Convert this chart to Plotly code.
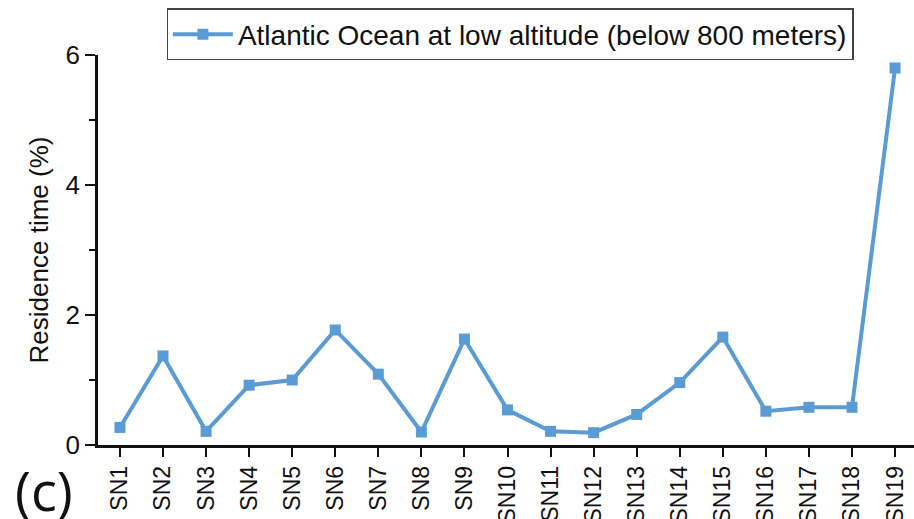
import plotly.graph_objects as go

# Sampling stations and residence time (%)
stations = [f"SN{i}" for i in range(1, 20)]
residence = [0.27, 1.37, 0.21, 0.92, 1.00, 1.77, 1.09, 0.20, 1.63, 0.54,
             0.21, 0.19, 0.47, 0.96, 1.66, 0.52, 0.58, 0.58, 5.80]
series_name = "Atlantic Ocean at low altitude (below 800 meters)"
y_major = [0, 2, 4, 6]
y_minor = [1, 3, 5]

blue = "#5b9bd5"
ink = "#111111"

fig = go.Figure()
fig.add_trace(go.Scatter(
    x=list(range(len(stations))), y=residence, name=series_name,
    mode="lines+markers",
    line=dict(color=blue, width=4),
    marker=dict(symbol="square", size=11, color=blue),
    showlegend=True,
))

fig.update_layout(
    width=914, height=519,
    margin=dict(l=98, r=0, t=55, b=74, autoexpand=False),
    paper_bgcolor="white", plot_bgcolor="white",
    font=dict(family="Liberation Sans, Arial, sans-serif", color=ink),
    legend=dict(
        x=0.505, y=1.12, xanchor="center", yanchor="top",
        xref="paper", yref="paper",
        orientation="h",
        bordercolor="#444444", borderwidth=1.3, bgcolor="white",
        font=dict(size=28, color=ink),
        itemwidth=60,
        tracegroupgap=0,
    ),
    showlegend=True,
)

fig.update_xaxes(
    range=[-0.51, 18.44], automargin=False,
    tickmode="array", tickvals=list(range(len(stations))), ticktext=stations,
    tickangle=-90, tickfont=dict(size=23),
    ticks="outside", ticklen=9, tickwidth=2, tickcolor=ink,
    showline=True, linecolor=ink, linewidth=2.5,
    showgrid=False, zeroline=False,
)
fig.update_yaxes(
    range=[0, 6], automargin=False,
    tickmode="array", tickvals=y_major, ticktext=[str(v) for v in y_major],
    tickfont=dict(size=26),
    ticks="outside", ticklen=10, tickwidth=2, tickcolor=ink,
    minor=dict(tickvals=y_minor, ticks="outside", ticklen=6,
               tickwidth=2, tickcolor=ink, showgrid=False),
    showline=True, linecolor=ink, linewidth=2.5,
    showgrid=False, zeroline=False,
    title=dict(text="Residence time (%)", font=dict(size=26), standoff=10),
)

# Panel label
fig.add_annotation(
    text="(c)", xref="paper", yref="paper",
    x=-0.104, y=-0.215, xanchor="left", yanchor="bottom",
    showarrow=False, font=dict(family="Open Sans, sans-serif", size=54, color=ink),
)

fig.write_html("out.html")
